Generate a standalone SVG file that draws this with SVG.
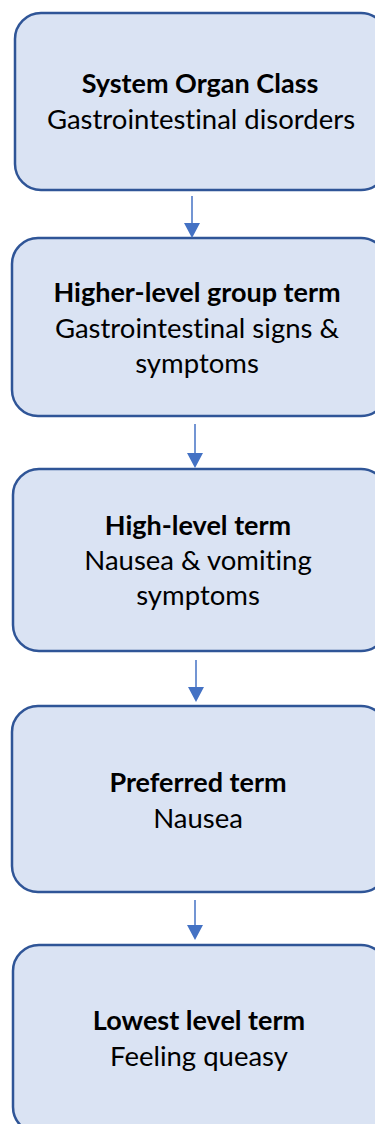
<svg xmlns="http://www.w3.org/2000/svg" width="375" height="1124" viewBox="0 0 375 1124">
<style>
.box{fill:#DAE3F3;stroke:#2F5597;stroke-width:2.5}
.t{font-family:Lato,"Open Sans","Liberation Sans",sans-serif;font-size:27.5px;fill:#000;text-anchor:middle;font-variant-ligatures:none}
.b{font-weight:bold;font-size:27px}
.c{stroke:#4472C4;stroke-width:1.5;fill:none}
.h{fill:#4472C4}
</style>
<rect width="375" height="1124" fill="#fff"/>
<g id="n1">
<rect class="box" x="15" y="13" width="372" height="177" rx="26"/>
<text class="t b" x="200" y="93">System Organ Class</text>
<text class="t" x="201" y="129">Gastrointestinal disorders</text>
</g>
<g id="n2">
<rect class="box" x="12" y="238" width="375" height="178" rx="26"/>
<text class="t b" x="197" y="302">Higher-level group term</text>
<text class="t" x="197" y="338">Gastrointestinal signs &amp;</text>
<text class="t" x="197" y="373">symptoms</text>
</g>
<g id="n3">
<rect class="box" x="13" y="469" width="374" height="182" rx="26"/>
<text class="t b" x="198" y="535">High-level term</text>
<text class="t" x="198" y="570">Nausea &amp; vomiting</text>
<text class="t" x="198" y="605">symptoms</text>
</g>
<g id="n4">
<rect class="box" x="12" y="706" width="375" height="186" rx="26"/>
<text class="t b" x="198" y="792">Preferred term</text>
<text class="t" x="198" y="828">Nausea</text>
</g>
<g id="n5">
<rect class="box" x="13" y="945" width="374" height="188" rx="26"/>
<text class="t b" x="199" y="1030">Lowest level term</text>
<text class="t" x="199" y="1066">Feeling queasy</text>
</g>
<g id="connectors">
<line class="c" x1="192" y1="196" x2="192" y2="224"/>
<polygon class="h" points="184,223 200,223 192,238"/>
<line class="c" x1="195" y1="424" x2="195" y2="454"/>
<polygon class="h" points="187,453 203,453 195,468"/>
<line class="c" x1="196" y1="660" x2="196" y2="688"/>
<polygon class="h" points="188,687 204,687 196,702"/>
<line class="c" x1="195" y1="900" x2="195" y2="926"/>
<polygon class="h" points="187,925 203,925 195,940"/>
</g>
</svg>
